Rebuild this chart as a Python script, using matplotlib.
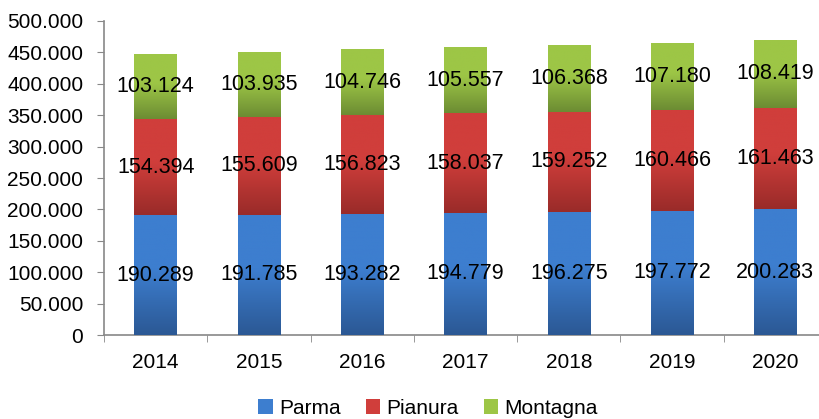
import numpy as np
import matplotlib.pyplot as plt
from matplotlib.colors import LinearSegmentedColormap
from matplotlib.patches import Patch
from matplotlib.ticker import FuncFormatter

plt.rcParams['font.family'] = ['Liberation Sans', 'DejaVu Sans']

# data
years = ['2014', '2015', '2016', '2017', '2018', '2019', '2020']
parma = [190289, 191785, 193282, 194779, 196275, 197772, 200283]
pianura = [154394, 155609, 156823, 158037, 159252, 160466, 161463]
montagna = [103124, 103935, 104746, 105557, 106368, 107180, 108419]

series = [('Parma', parma, '#3d7ecf', '#2b5894'),
          ('Pianura', pianura, '#d03e3b', '#992b29'),
          ('Montagna', montagna, '#9dc646', '#6c8c33')]


def fmt_it(v):
    return f'{int(round(v)):,}'.replace(',', '.')


fig = plt.figure(figsize=(8.2, 4.19), dpi=100)
ax = fig.add_axes([104 / 820, 84 / 419, 723 / 820, 314 / 419])

x = np.arange(len(years))
width = 0.41
bottom = np.zeros(len(years))
handles = []
grad = np.linspace(0, 1, 256).reshape(-1, 1)

for name, vals, top_c, bot_c in series:
    vals = np.array(vals, dtype=float)
    cmap = LinearSegmentedColormap.from_list(
        name, [(0, bot_c), (0.55, top_c), (1, top_c)])
    bars = ax.bar(x, vals, width, bottom=bottom, color=top_c, zorder=2)
    for b in bars:
        x0, y0 = b.get_x(), b.get_y()
        im = ax.imshow(grad, cmap=cmap, origin='lower', aspect='auto',
                       extent=(x0, x0 + b.get_width(), y0, y0 + b.get_height()),
                       zorder=3)
        im.set_clip_path(b)
    for xi, v, bt in zip(x, vals, bottom):
        ax.text(xi, bt + v / 2, fmt_it(v), ha='center', va='center',
                fontsize=15.5, zorder=5)
    bottom += vals
    handles.append(Patch(facecolor=cmap(0.6), label=name))

ax.set_xlim(-0.5, len(years) - 0.5)
ax.set_ylim(0, 500000)
ax.set_yticks(np.arange(0, 500001, 50000))
ax.yaxis.set_major_formatter(FuncFormatter(lambda v, p: fmt_it(v)))
ax.set_xticks(x)
ax.set_xticklabels(years)
ax.set_xticks(np.arange(-0.5, len(years), 1), minor=True)
ax.tick_params(axis='x', which='major', length=0, pad=13, labelsize=15)
ax.tick_params(axis='x', which='minor', length=5, color='#888888')
ax.tick_params(axis='y', length=5, color='#888888', pad=10, labelsize=15)

for s in ['top', 'right']:
    ax.spines[s].set_visible(False)
for s in ['left', 'bottom']:
    ax.spines[s].set_color('#888888')
    ax.spines[s].set_linewidth(1.2)

fig.legend(handles=handles, loc='center', bbox_to_anchor=(428 / 820, 1 - 408 / 419),
           ncol=3, frameon=False, fontsize=15, handlelength=0.7, handleheight=0.7,
           handletextpad=0.3, columnspacing=1.2, borderpad=0)

fig.savefig('out.png', dpi=100)
